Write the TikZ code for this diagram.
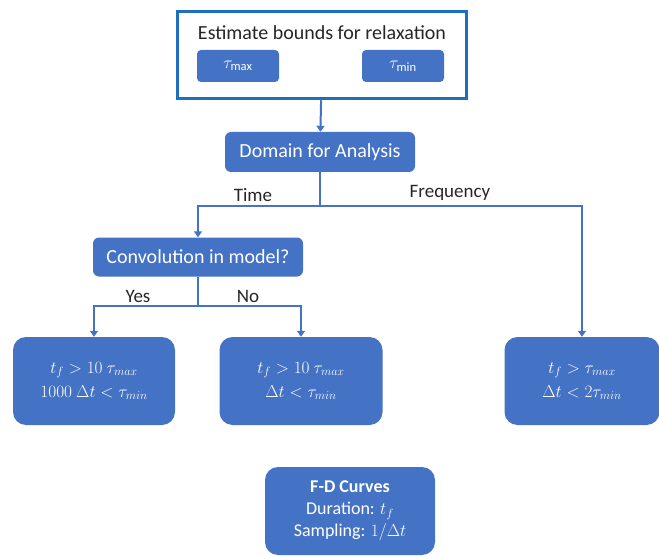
\documentclass[tikz,border=0pt]{standalone}
\usepackage{fontspec}
\setmainfont{Carlito}
\usetikzlibrary{positioning,calc,arrows.meta}
\definecolor{boxblue}{HTML}{4472C4}
\definecolor{frameblue}{HTML}{1F6FBF}
\definecolor{labelgray}{HTML}{262626}

\begin{document}
\begin{tikzpicture}[x=1pt, y=-1pt,
    every node/.style={font=\fontsize{20}{24}\selectfont},
    bluebox/.style={fill=boxblue, text=white, align=center, inner sep=0pt, rounded corners=6pt},
    bigbox/.style={bluebox, rounded corners=13pt, minimum height=88pt},
    mathbox/.style={bigbox, font=\fontsize{18}{24}\selectfont},
    link/.style={draw=boxblue, line width=2pt},
    arr/.style={link, -{Triangle[width=8pt,length=6pt]}},
    branch/.style={text=labelgray, font=\fontsize{19}{22}\selectfont}]
          \useasboundingbox (0, 0) rectangle (659, 559);%
          % bounds on relaxation
          \node [draw=frameblue, line width=3.5pt, minimum width=289pt, minimum height=87pt, inner sep=0pt] (bounds) at (322, 55) {};%
          \node [text=labelgray] (boundstitle) at (322, 33) {Estimate bounds for relaxation};%
          \node [bluebox, rounded corners=4pt, minimum width=82pt, minimum height=32pt, font=\fontsize{18}{20}\selectfont] (taumax) at (238, 66) {$\tau_{\mathrm{max}}$};%
          \node [bluebox, rounded corners=4pt, minimum width=82pt, minimum height=32pt, font=\fontsize{18}{20}\selectfont] (taumin) at (403, 66) {$\tau_{\mathrm{min}}$};%
          % decisions
          \node [bluebox, minimum width=190pt, minimum height=40pt] (domain) at (320, 152) {Domain for Analysis};%
          \node [bluebox, minimum width=210pt, minimum height=39pt] (conv) at (198, 257) {Convolution in model?};%
          % criteria
          \node [mathbox, minimum width=162pt] (yesbox) at (94, 381) {%
            $t_f > 10\ \tau_{max}$%
            \\$1000\ \Delta t < \tau_{min}$};%
          \node [mathbox, minimum width=163pt] (nobox) at (301, 381) {%
            $t_f > 10\ \tau_{max}$%
            \\$\Delta t < \tau_{min}$};%
          \node [mathbox, minimum width=155pt] (freqbox) at (582, 381) {%
            $t_f > \tau_{max}$%
            \\$\Delta t < 2\tau_{min}$};%
          \node [bigbox, minimum width=170pt, font=\fontsize{18}{22}\selectfont] (fdbox) at (350, 511) {%
            \textbf{F-D Curves}%
            \\Duration: $t_f$%
            \\Sampling: $1/\Delta t$};%
          % connectors
          \coordinate (dsplit) at (320, 206);%
          \coordinate (csplit) at (198, 306);%
          \draw [arr] (bounds) -- (domain);%
          \draw [link] (domain) -- (dsplit);%
          \draw [arr] (dsplit) -| (conv);%
          \draw [arr] (dsplit) -| (freqbox);%
          \draw [link] (conv) -- (csplit);%
          \draw [arr] (csplit) -| (yesbox);%
          \draw [arr] (csplit) -| (nobox);%
          \node [branch] (timelabel) at (253, 195) {Time};%
          \node [branch] (freqlabel) at (450, 193) {Frequency};%
          \node [branch] (yeslabel) at (138, 296) {Yes};%
          \node [branch] (nolabel) at (248, 296) {No};%
        \end{tikzpicture}
\end{document}
